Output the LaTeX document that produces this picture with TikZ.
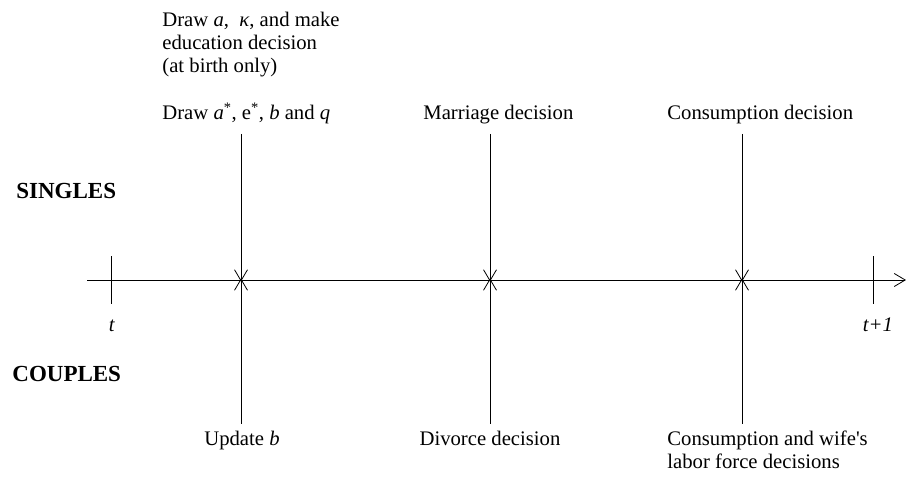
\documentclass[tikz,border=0pt]{standalone}
\usepackage{fontspec}
\setmainfont{Liberation Serif}
\usetikzlibrary{arrows.meta, positioning}

\tikzset{
  txt/.style   = {inner sep=0pt, align=left},
  group/.style = {inner sep=0pt, font=\fontsize{23}{27}\selectfont\bfseries},
  tick/.style  = {line width=0.8pt},
}

\begin{document}
\begin{tikzpicture}[x=1pt, y=-1pt, line width=0.8pt,
    >={Straight Barb[length=11pt, width=13pt]},
    font=\fontsize{20.7}{23}\selectfont]
  \useasboundingbox (0,0) rectangle (906,478);

  % Time axis
  \coordinate (ax0) at (87,280);
  \coordinate (ax1) at (906,280);
  \draw[->] (ax0) -- (ax1);

  % Period marks
  \coordinate (t0) at (111,280);
  \coordinate (t1) at (873,280);
  \draw[tick] ([yshift=-24pt]t0) -- ([yshift=24pt]t0);
  \draw[tick] ([yshift=-24pt]t1) -- ([yshift=24pt]t1);
  \node[inner sep=0pt, anchor=base] (lt0) at (112,332) {\textit{t}};
  \node[inner sep=0pt, anchor=base] (lt1) at (878,332) {\textit{t+1}};

  % Groups
  \node[group, anchor=base west] (singles) at (16,199) {SINGLES};
  \node[group, anchor=base west] (couples) at (12,382) {COUPLES};

  % Events in the period
  \foreach \x/\n in {241/upd, 490/mar, 742/con} {
    \coordinate (\n) at (\x,280);
    \draw[->] (\x,134) -- ([yshift=-1.5pt]\n);
    \draw[->] (\x,424) -- ([yshift=1.5pt]\n);
  }

  % Singles
  \node[txt, anchor=base west] (birth) at (162,73)
    {Draw \textit{a}, \ \textit{κ}, and make\\education decision\\(at birth only)};
  \node[txt, anchor=base west] (drawq) at (162,120)
    {Draw \textit{a}\textsuperscript{*}, e\textsuperscript{*}, \textit{b} and \textit{q}};
  \node[txt, anchor=base west] (marry) at (423,120) {Marriage decision};
  \node[txt, anchor=base west] (cons)  at (667,120) {Consumption decision};

  % Couples
  \node[txt, anchor=base] (update)  at (242,446) {Update \textit{b}};
  \node[txt, anchor=base] (divorce) at (490,446) {Divorce decision};
  \node[txt, anchor=base west] (labor) at (667,469)
    {Consumption and wife\textquotesingle s\\labor force decisions};
\end{tikzpicture}
\end{document}
